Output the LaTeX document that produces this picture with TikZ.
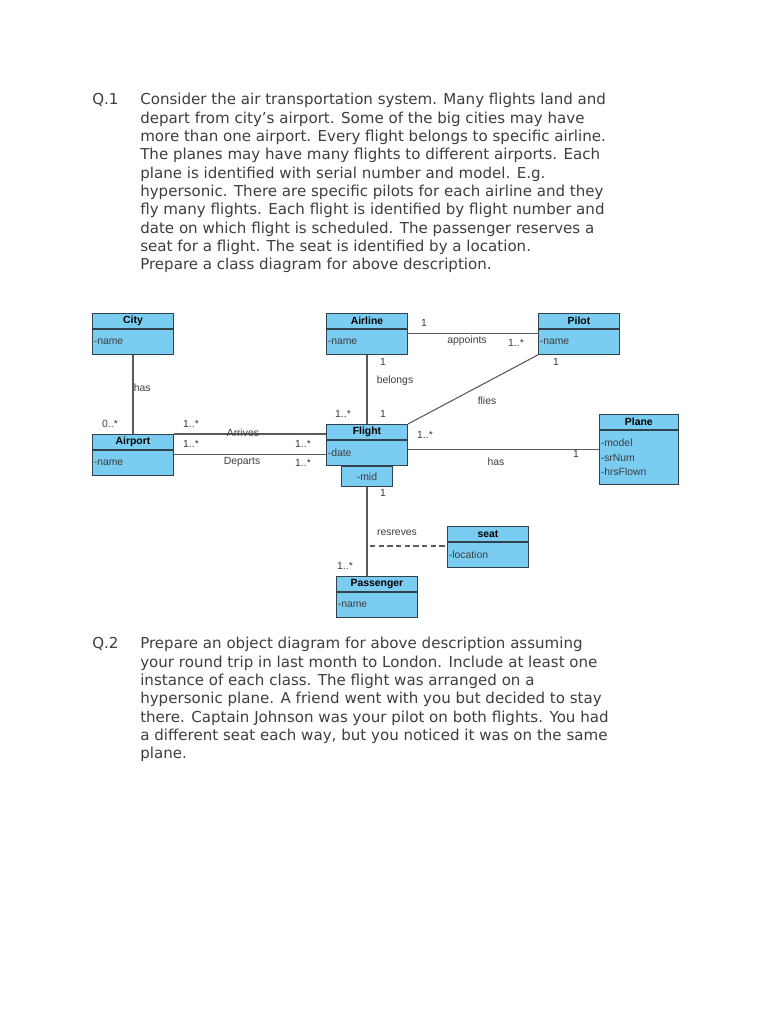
\documentclass[tikz,border=0pt]{standalone}
\usepackage{fontspec}
\setmainfont{DejaVu Sans}
\newfontfamily\umlfont{Liberation Sans}
\usetikzlibrary{positioning}
\definecolor{umlBlue}{HTML}{7ACCF1}
\definecolor{umlEdge}{HTML}{33414D}
\definecolor{umlLine}{HTML}{5A5A5A}
\definecolor{textGray}{HTML}{3E3E3E}

\begin{document}
\begin{tikzpicture}[x=0.75pt,y=-0.75pt]
  \tikzset{
    para/.style={font=\fontsize{11.3}{13.75}\selectfont,align=left,inner sep=0pt,text=textGray,anchor=north west},
    classhead/.style={draw=umlEdge,fill=umlBlue,line width=0.7pt,anchor=north west,minimum width=60.75pt,minimum height=11.25pt,inner sep=0pt,font=\umlfont\fontsize{7.8}{9}\selectfont\bfseries},
    classbody/.style={draw=umlEdge,fill=umlBlue,line width=0.7pt,minimum width=60.75pt,minimum height=18.75pt,inner xsep=1pt,inner ysep=0pt,text width=58.75pt,align=left,font=\umlfont\fontsize{7.8}{11}\selectfont,text=textGray},
    lbl/.style={font=\umlfont\fontsize{7.8}{9}\selectfont,text=textGray,inner sep=0pt},
    assoc/.style={draw=umlLine,line width=0.8pt}
  }
  \path[fill=white] (0,0) rectangle (768,1024);
  \useasboundingbox (0,0) rectangle (768,1024);

  \node[para] (q1) at (92,93) {Q.1};
  \node[para] (q1text) at (140,93)
    {Consider the air transportation system. Many flights land and\\
     depart from city’s airport. Some of the big cities may have\\
     more than one airport. Every flight belongs to specific airline.\\
     The planes may have many flights to different airports. Each\\
     plane is identified with serial number and model. E.g.\\
     hypersonic. There are specific pilots for each airline and they\\
     fly many flights. Each flight is identified by flight number and\\
     date on which flight is scheduled. The passenger reserves a\\
     seat for a flight. The seat is identified by a location.\\
     Prepare a class diagram for above description.};

  \node[classhead] (city) at (92,313) {City};
  \node[classbody,below=0pt of city] (cityattr) {-name};
  \node[classhead] (airline) at (326,313) {Airline};
  \node[classbody,below=0pt of airline] (airlineattr) {-name};
  \node[classhead] (pilot) at (538,313) {Pilot};
  \node[classbody,below=0pt of pilot] (pilotattr) {-name};
  \node[classhead] (airport) at (92,434) {Airport};
  \node[classbody,below=0pt of airport] (airportattr) {-name};
  \node[classhead] (flight) at (326,424) {Flight};
  \node[classbody,below=0pt of flight] (flightattr) {-date};
  \node[classbody,below=0pt of flightattr,minimum width=38.25pt,text width=38.25pt,minimum height=15pt,align=center,inner xsep=0pt] (flightmid) {-mid};
  \node[classhead,minimum width=59pt] (plane) at (599,414) {Plane};
  \node[classbody,below=0pt of plane,minimum width=59pt,text width=57pt,minimum height=40.5pt] (planeattr) {-model\\-srNum\\-hrsFlown};
  \node[classhead] (seat) at (447,526) {seat};
  \node[classbody,below=0pt of seat] (seatattr) {-location};
  \node[classhead] (passenger) at (336,576) {Passenger};
  \node[classbody,below=0pt of passenger] (passengerattr) {-name};

  \draw[assoc] (cityattr.south) -- (airport.north);
  \draw[assoc] (airport.north east) -- (airport.north east -| flight.west);
  \draw[assoc] ([yshift=-3.75pt]airportattr.north east) -- ([yshift=-3.75pt]airportattr.north east -| flight.west);
  \draw[assoc] (airlineattr.south) -- (flight.north);
  \draw[assoc] ([yshift=-3.75pt]airlineattr.north east) -- ([yshift=-3.75pt]airlineattr.north east -| pilotattr.west);
  \draw[assoc] (pilotattr.south west) -- (flight.north east);
  \draw[assoc] ([yshift=-7.5pt]flightattr.north east) -- ([yshift=-7.5pt]flightattr.north east -| planeattr.west);
  \draw[assoc] (flightmid.south) -- (flightmid.south |- passenger.north);
  \coordinate (reservejoin) at (370,546);
  \draw[assoc,dashed,dash pattern=on 4pt off 2.5pt] (reservejoin) -- (reservejoin -| seatattr.west);

  \node[lbl,anchor=west] (hascity) at (133.5,388) {has};
  \node[lbl] (arrives) at (243,433) {Arrives};
  \node[lbl] (departs) at (242,462) {Departs};
  \node[lbl] (belongs) at (395,381) {belongs};
  \node[lbl] (appoints) at (467,341) {appoints};
  \node[lbl] (flies) at (487,401) {flies};
  \node[lbl] (hasplane) at (496,462) {has};
  \node[lbl] (resreves) at (397,533) {resreves};
  \foreach \x/\y/\t [count=\i] in {110/424/0..*,191/424/1..*,191/444/1..*,303/444/1..*,303/463/1..*,
      383/362/1,343/414/1..*,383/414/1,424/323/1,516/343/1..*,556/362/1,425/435/1..*,576/454/1,
      383/493/1,345/566/1..*}
    {\node[lbl] (mult\i) at (\x,\y) {\t};}

  \node[para] (q2) at (92,637) {Q.2};
  \node[para] (q2text) at (140,637)
    {Prepare an object diagram for above description assuming\\
     your round trip in last month to London. Include at least one\\
     instance of each class. The flight was arranged on a\\
     hypersonic plane. A friend went with you but decided to stay\\
     there. Captain Johnson was your pilot on both flights. You had\\
     a different seat each way, but you noticed it was on the same\\
     plane.};
\end{tikzpicture}
\end{document}
